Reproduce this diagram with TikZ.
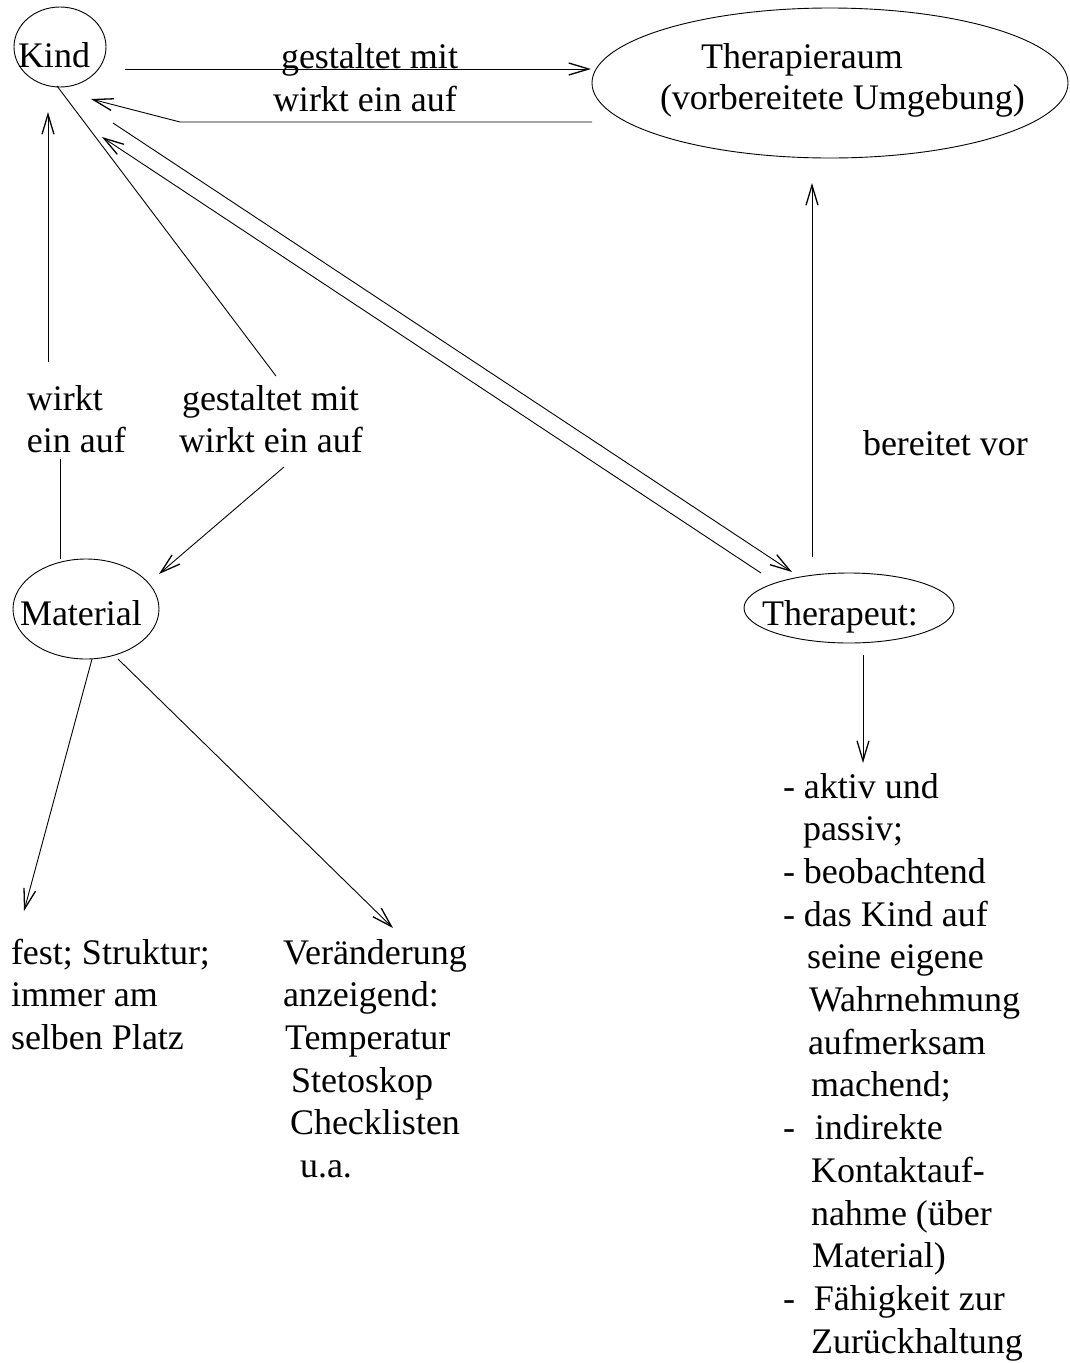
\documentclass[tikz,border=0pt]{standalone}
\usepackage{fontspec}
\setmainfont{Liberation Serif}
\usetikzlibrary{arrows.meta,shapes.geometric}
\newcommand{\mylines}[1]{\begin{tabular}[t]{@{}l@{}}#1\end{tabular}}
\begin{document}
\begin{tikzpicture}[x=1pt,y=-1pt,
  every node/.style={font=\fontsize{36}{42.7}\selectfont, inner sep=0pt, outer sep=0pt},
  bubble/.style={draw, ellipse, line width=0.9pt},
  conn/.style={line width=0.9pt},
  arr/.style={conn, -{Straight Barb[length=20pt,width=12pt,line width=1.3pt]}},
  txt/.style={anchor=base west}
]
\useasboundingbox (0,0) rectangle (1069,1363);
% nodes (shapes)
\node[bubble, minimum width=92, minimum height=80] (kind) at (60,47) {};
\node[bubble, minimum width=476, minimum height=150] (raum) at (830,83) {};
\node[bubble, minimum width=146, minimum height=100] (material) at (86,609) {};
\node[bubble, minimum width=210, minimum height=70] (therapeut) at (849,608) {};
% node texts
\node[txt] (kindtxt) at (18,67) {Kind};
\node[txt] (raumtxt1) at (701,68) {Therapieraum};
\node[txt] (raumtxt2) at (660,109) {(vorbereitete Umgebung)};
\node[txt] (materialtxt) at (20,625) {Material};
\node[txt] (therapeuttxt) at (762,625) {Therapeut:};
% labels
\node[txt] (l1) at (281,68) {gestaltet mit};
\node[txt] (l2) at (273,111) {wirkt ein auf};
\node[txt] (l3) at (27,410) {\mylines{wirkt\\ein auf}};
\node[txt] (l4) at (179,410) {\mylines{\hspace*{3pt}gestaltet mit\\wirkt ein auf}};
\node[txt] (l5) at (863,455) {bereitet vor};
\node[txt] (t1) at (11,964) {\mylines{fest; Struktur;\\immer am\\selben Platz}};
\node[txt] (t2) at (283,964) {\mylines{Veränderung\\anzeigend:\\\hspace*{2pt}Temperatur\\\hspace*{8pt}Stetoskop\\\hspace*{7pt}Checklisten\\\hspace*{17pt}u.a.}};
\node[txt] (t3) at (783,798) {\mylines{- aktiv und\\\hspace*{20pt}passiv;\\- beobachtend\\- das Kind auf\\\hspace*{24pt}seine eigene\\\hspace*{26pt}Wahrnehmung\\\hspace*{25pt}aufmerksam\\\hspace*{28pt}machend;\\-\hspace*{11pt} indirekte\\\hspace*{28pt}Kontaktauf-\\\hspace*{28pt}nahme (über\\\hspace*{29pt}Material)\\-\hspace*{10pt} Fähigkeit zur\\\hspace*{28pt}Zurückhaltung}};
% connector endpoints
\coordinate (a1) at (125,69);   \coordinate (a2) at (591,69);
\coordinate (b1) at (592,122);  \coordinate (b2) at (180,122); \coordinate (b3) at (91,99);
\coordinate (c1) at (48,362);   \coordinate (c2) at (48,112);
\coordinate (d1) at (60,459);   \coordinate (d2) at (60,559);
\coordinate (e1) at (57,86);    \coordinate (e2) at (276,376);
\coordinate (f1) at (284,467);  \coordinate (f2) at (159,574);
\coordinate (g1) at (113,123);  \coordinate (g2) at (792,572);
\coordinate (h1) at (761,573);  \coordinate (h2) at (102,137);
\coordinate (i1) at (812,557);  \coordinate (i2) at (812,183);
\coordinate (j1) at (863,655);  \coordinate (j2) at (863,763);
\coordinate (k1) at (92,659);   \coordinate (k2) at (24,911);
\coordinate (m1) at (118,659);  \coordinate (m2) at (393,928);
% connectors
\draw[arr] (a1) -- (a2);
\draw[arr] (b1) -- (b2) -- (b3);
\draw[arr] (c1) -- (c2);
\draw[conn] (d1) -- (d2);
\draw[conn] (e1) -- (e2);
\draw[arr] (f1) -- (f2);
\draw[arr] (g1) -- (g2);
\draw[arr] (h1) -- (h2);
\draw[arr] (i1) -- (i2);
\draw[arr] (j1) -- (j2);
\draw[arr] (k1) -- (k2);
\draw[arr] (m1) -- (m2);
\end{tikzpicture}
\end{document}
